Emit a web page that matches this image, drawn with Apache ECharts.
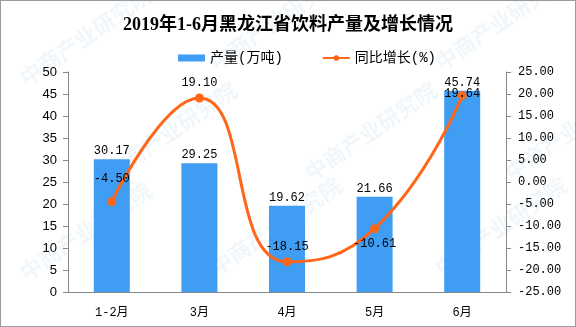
<!DOCTYPE html>
<html>
<head>
<meta charset="utf-8">
<script src="https://cdn.jsdelivr.net/npm/echarts@6/dist/echarts.min.js"></script>
<style>
  html, body { margin: 0; padding: 0; background: #fff; }
  #chart { width: 576px; height: 327px; box-sizing: border-box; border: 1px solid #9a9a9a; }
</style>
</head>
<body>
<div id="chart"></div>
<script>
// 2019年1-6月黑龙江省饮料产量及增长情况
const categories = ['1-2月', '3月', '4月', '5月', '6月'];
const output = [30.17, 29.25, 19.62, 21.66, 45.74];       // 产量(万吨)
const growth = [-4.50, 19.10, -18.15, -10.61, 19.64];     // 同比增长(%)
const growthLabelPos = ['above', 'above', 'above', 'below', 'center'];

const monoFont = '"Liberation Mono", "Noto Sans CJK SC", monospace';
const axisColor = '#888888';

const chart = echarts.init(document.getElementById('chart'), null, { renderer: 'canvas' });

// faint diagonal watermark text
const marks = [];
const wmSpots = [[15, 70], [205, 55], [430, 55], [15, 265], [205, 260], [430, 260], [100, 165], [300, 165], [500, 165]];
wmSpots.forEach(([x, y]) => {
  marks.push({
    type: 'text', x: x, y: y, rotation: Math.PI / 5.2, silent: true, z: 0,
    style: { text: '中商产业研究院', fill: 'rgba(150,190,220,0.14)', font: 'bold 22px "Noto Sans CJK SC"' }
  });
});

chart.setOption({
  animation: false,
  title: {
    text: '2019年1-6月黑龙江省饮料产量及增长情况',
    left: 'center', top: 10,
    textStyle: { fontFamily: '"Liberation Serif", "Noto Sans CJK SC", serif', fontWeight: 'bold', fontSize: 18, color: '#000' }
  },
  legend: {
    top: 45, left: 172,
    itemGap: 39, itemWidth: 27, itemHeight: 7,
    textStyle: { fontFamily: monoFont, fontSize: 14, color: '#000' },
    data: [
      { name: '产量(万吨)', icon: 'rect' },
      { name: '同比增长(%)' }
    ]
  },
  graphic: marks,
  grid: { left: 67, right: 69, top: 71, bottom: 34 },
  xAxis: {
    type: 'category',
    data: categories,
    axisLine: { lineStyle: { color: axisColor } },
    axisTick: { lineStyle: { color: axisColor }, length: 5 },
    axisLabel: { fontFamily: monoFont, fontSize: 12, color: '#000', margin: 15 }
  },
  yAxis: [
    {
      type: 'value', min: 0, max: 50, interval: 5,
      splitLine: { show: false },
      axisLine: { show: true, lineStyle: { color: axisColor } },
      axisTick: { show: true, lineStyle: { color: axisColor }, length: 5 },
      axisLabel: { fontFamily: '"Liberation Sans", Arial, sans-serif', fontSize: 13, color: '#000', margin: 11 }
    },
    {
      type: 'value', min: -25, max: 25, interval: 5,
      splitLine: { show: false },
      axisLine: { show: true, lineStyle: { color: axisColor } },
      axisTick: { show: true, lineStyle: { color: axisColor }, length: 5 },
      axisLabel: {
        fontFamily: monoFont, fontSize: 12, color: '#000', margin: 12,
        formatter: v => v.toFixed(2)
      }
    }
  ],
  series: [
    {
      name: '产量(万吨)',
      type: 'bar',
      barWidth: 36,
      itemStyle: { color: '#3f9ef3' },
      label: {
        show: true, position: 'top', distance: 2,
        fontFamily: monoFont, fontSize: 12, color: '#000',
        formatter: p => p.value.toFixed(2)
      },
      data: output
    },
    {
      name: '同比增长(%)',
      type: 'line',
      yAxisIndex: 1,
      smooth: 0.5,
      symbol: 'circle',
      symbolSize: 9,
      lineStyle: { color: '#ff661a', width: 3 },
      itemStyle: { color: '#ff661a' },
      label: { fontFamily: monoFont, fontSize: 12, color: '#000' },
      data: growth.map((v, i) => {
        const pos = growthLabelPos[i];
        let label;
        if (pos === 'above') label = { show: true, position: 'top', distance: i === 0 ? 12 : 5 };
        else if (pos === 'below') label = { show: true, position: 'bottom', distance: 5 };
        else label = { show: true, position: 'inside', offset: [0, -2] };
        label.formatter = p => p.value.toFixed(2);
        return { value: v, label: label };
      })
    }
  ]
});
</script>
</body>
</html>
